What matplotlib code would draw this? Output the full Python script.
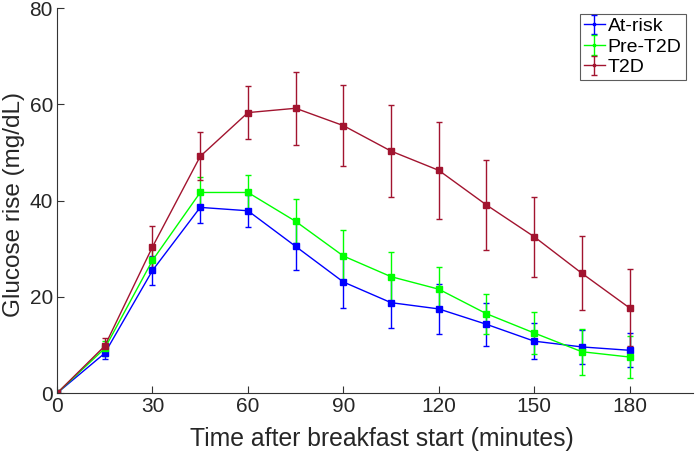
import numpy as np
import matplotlib
matplotlib.use("Agg")
import matplotlib.pyplot as plt

plt.rcParams['font.family'] = ['Liberation Sans', 'DejaVu Sans']

t = [0, 15, 30, 45, 60, 75, 90, 105, 120, 135, 150, 165, 180]

atrisk = [0, 8.3, 25.5, 38.6, 37.9, 30.5, 23.1, 18.8, 17.5, 14.3, 10.8, 9.6, 8.9]
atrisk_err = [0, 1.3, 3.0, 3.3, 3.3, 5.0, 5.4, 5.2, 5.2, 4.5, 3.8, 3.5, 3.5]

pret2d = [0, 9.3, 27.6, 41.7, 41.7, 35.7, 28.5, 24.2, 21.6, 16.5, 12.5, 8.6, 7.5]
pret2d_err = [0, 1.5, 2.5, 3.2, 3.6, 4.6, 5.4, 5.2, 4.6, 4.2, 4.4, 4.8, 4.3]

t2d = [0, 9.8, 30.4, 49.2, 58.3, 59.2, 55.6, 50.3, 46.3, 39.1, 32.5, 24.9, 17.7]
t2d_err = [0, 1.6, 4.4, 5.0, 5.5, 7.6, 8.5, 9.5, 10.1, 9.3, 8.3, 7.7, 8.0]

labels = ['At-risk', 'Pre-T2D', 'T2D']
colors = ['#0000ff', '#00ff00', '#a2142f']

fig = plt.figure(figsize=(6.96, 4.55), dpi=100)
ax = fig.add_axes([0.082, 0.136, 0.914, 0.846])

for y, e, lab, c in zip([atrisk, pret2d, t2d], [atrisk_err, pret2d_err, t2d_err], labels, colors):
    ax.errorbar(t, y, yerr=e, color=c, lw=1.0, elinewidth=1.0, capsize=2,
                marker='s', ms=4.5, label=lab)

ax.set_xlim(0, 200)
ax.set_ylim(0, 80)
ax.set_xticks(range(0, 181, 30))
ax.set_yticks(range(0, 81, 20))
ax.tick_params(direction='in', labelsize=15, length=5, pad=3,
               color='#333333', labelcolor='#262626')
for s in ['top', 'right']:
    ax.spines[s].set_visible(False)
for s in ['left', 'bottom']:
    ax.spines[s].set_color('#333333')
ax.set_xlabel('Time after breakfast start (minutes)', fontsize=17.8, color='#262626')
ax.xaxis.set_label_coords(0.51, -0.087)
ax.xaxis.label.set_va('top')
ax.set_ylabel('Glucose rise (mg/dL)', fontsize=17.5, color='#262626')
ax.yaxis.set_label_coords(-0.05, 0.49)

leg = ax.legend(loc='upper right', bbox_to_anchor=(0.988, 0.986), fontsize=14,
                fancybox=False, handlelength=1.1, handletextpad=0.15,
                borderpad=0.2, labelspacing=0.15, borderaxespad=0, markerscale=0.4)
leg.get_frame().set_edgecolor('#333333')
leg.get_frame().set_linewidth(0.8)

fig.savefig('out.png', dpi=100)
